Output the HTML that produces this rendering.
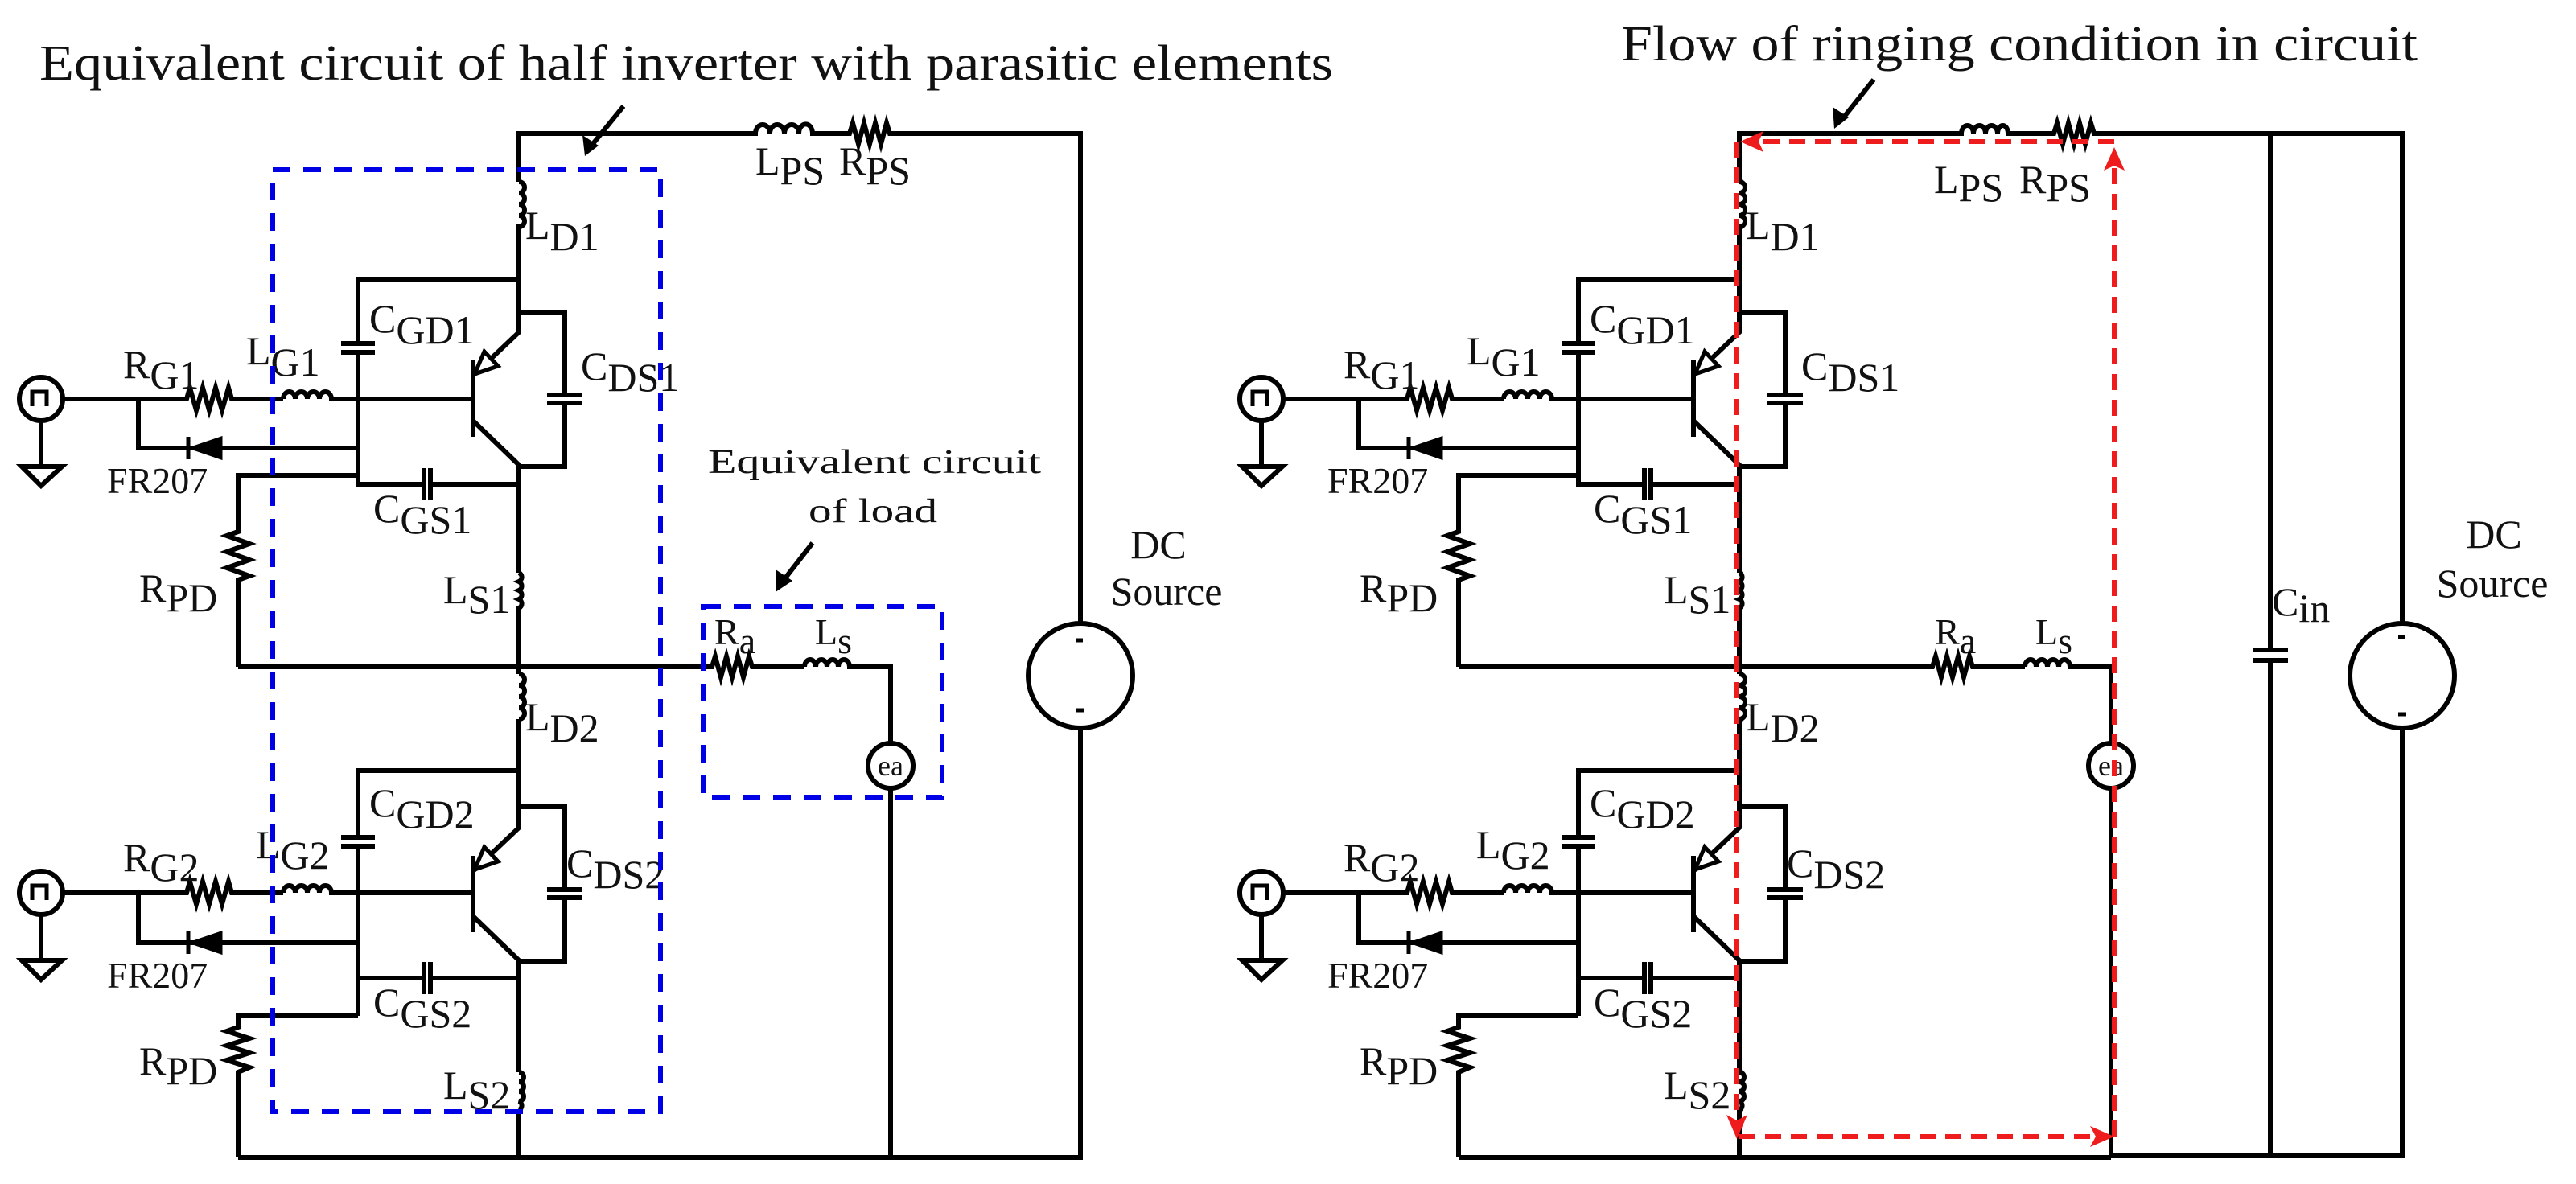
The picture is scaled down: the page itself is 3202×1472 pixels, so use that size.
<!DOCTYPE html>
<html><head><meta charset="utf-8"><style>
html,body{margin:0;padding:0;background:#fff;}
svg{display:block;}
text{font-family:"Liberation Serif",serif;fill:#111;}
</style></head><body>
<svg width="3202" height="1472" viewBox="0 0 3202 1472" xmlns="http://www.w3.org/2000/svg">
<defs>
<g id="half" fill="none" stroke="#000" stroke-width="6" stroke-linejoin="miter">
  <path d="M645 226 V166"/>
  <path d="M645 283 V413 L588 467"/>
  <path d="M588 448 V543"/>
  <path d="M588 523 L645 578 V712"/>
  <path d="M645 757 V838"/>
  <path d="M645 894 V1029 L588 1083"/>
  <path d="M588 1064 V1159"/>
  <path d="M588 1139 L645 1194 V1333"/>
  <path d="M645 1380 V1439"/>
  <path d="M645 226 a7 7 0 0 1 0 14 a7 7 0 0 1 0 14 a7 7 0 0 1 0 14 a7 7 0 0 1 0 14 V283"/>
  <path d="M645 712 a6 6 0 0 1 0 11 a6 6 0 0 1 0 11 a6 6 0 0 1 0 11 a6 6 0 0 1 0 11 V757"/>
  <path d="M645 838 a7 7 0 0 1 0 14 a7 7 0 0 1 0 14 a7 7 0 0 1 0 14 a7 7 0 0 1 0 14 V894"/>
  <path d="M645 1333 a6 6 0 0 1 0 12 a6 6 0 0 1 0 12 a6 6 0 0 1 0 12 a6 6 0 0 1 0 11 V1380"/>
  <path d="M590 465 L602 437 L619 455 Z" stroke-width="5" fill="#fff"/>
  <path d="M590 1081 L602 1053 L619 1071 Z" stroke-width="5" fill="#fff"/>
  <path d="M645 347 H445 V426 M445 440 V602 H527 M535 602 H645"/>
  <path d="M424 427 H466 M424 438 H466"/>
  <path d="M527 582 V622 M535 582 V622"/>
  <path d="M645 389 H702 V490 M702 502 V580 H645"/>
  <path d="M680 491 H724 M680 501 H724"/>
  <path d="M79 496 H232 l4 -14 l8 28 l8 -28 l8 28 l8 -28 l8 28 l8 -28 l4 14 H352"/>
  <path d="M352 496 a7.5 9 0 0 1 15 0 a7.5 9 0 0 1 15 0 a7.5 9 0 0 1 15 0 a7.5 9 0 0 1 15 0 H588"/>
  <path d="M172 496 V557 H445"/>
  <path d="M445 591 H296 V661 l-14 5 l28 10 l-28 10 l28 10 l-28 10 l28 10 l-14 5 V829"/>
  <path d="M645 958 H445 V1040 M445 1052 V1263 M445 1216 H527 M535 1216 H645"/>
  <path d="M424 1041 H466 M424 1052 H466"/>
  <path d="M527 1196 V1236 M535 1196 V1236"/>
  <path d="M645 1003 H702 V1106 M702 1117 V1195 H645"/>
  <path d="M680 1106 H724 M680 1116 H724"/>
  <path d="M79 1110 H232 l4 -14 l8 28 l8 -28 l8 28 l8 -28 l8 28 l8 -28 l4 14 H352"/>
  <path d="M352 1110 a7.5 9 0 0 1 15 0 a7.5 9 0 0 1 15 0 a7.5 9 0 0 1 15 0 a7.5 9 0 0 1 15 0 H588"/>
  <path d="M172 1110 V1172 H445"/>
  <path d="M445 1263 H296 V1277 l-14 5 l28 9 l-28 9 l28 9 l-28 9 l28 9 l-14 6 V1439"/>
  <path d="M275 544 L237 557 L275 570 Z" fill="#000" stroke-width="3"/>
  <path d="M234 543 V571" stroke-width="5"/>
  <path d="M275 1159 L237 1172 L275 1185 Z" fill="#000" stroke-width="3"/>
  <path d="M234 1158 V1186" stroke-width="5"/>
  <circle cx="51" cy="496" r="27"/>
  <path d="M40 505 V487 H58 V505" stroke-width="5"/>
  <path d="M51 523 V580 M27 580 H77 L51 604 Z"/>
  <circle cx="51" cy="1110" r="27"/>
  <path d="M40 1119 V1101 H58 V1119" stroke-width="5"/>
  <path d="M51 1137 V1194 M27 1194 H77 L51 1218 Z"/>
  <path d="M296 829 H885 l4 -13 l7 26 l7 -26 l7 26 l7 -26 l7 26 l7 -26 l4 13 H1000"/>
  <path d="M1000 829 a7 9 0 0 1 14 0 a7 9 0 0 1 14 0 a7 9 0 0 1 14 0 a7 9 0 0 1 14 0 H1107 V924"/>
  <circle cx="1107" cy="952" r="28"/>
  <path d="M1107 980 V1439 M296 1439 H1107"/>
</g>
<g id="halftext" font-size="50">
  <text x="653" y="297">L<tspan dy="14">D1</tspan></text>
  <text x="459" y="413">C<tspan dy="14">GD1</tspan></text>
  <text x="306" y="453">L<tspan dy="14">G1</tspan></text>
  <text x="153" y="470">R<tspan dy="13">G1</tspan></text>
  <text x="722" y="472">C<tspan dy="14">DS1</tspan></text>
  <text x="133" y="613" font-size="46">FR207</text>
  <text x="464" y="649">C<tspan dy="14">GS1</tspan></text>
  <text x="173" y="748">R<tspan dy="12">PD</tspan></text>
  <text x="551" y="750">L<tspan dy="12">S1</tspan></text>
  <text x="653" y="908">L<tspan dy="14">D2</tspan></text>
  <text x="459" y="1015">C<tspan dy="14">GD2</tspan></text>
  <text x="318" y="1067">L<tspan dy="13">G2</tspan></text>
  <text x="153" y="1083">R<tspan dy="12">G2</tspan></text>
  <text x="704" y="1090">C<tspan dy="14">DS2</tspan></text>
  <text x="133" y="1228" font-size="46">FR207</text>
  <text x="464" y="1263">C<tspan dy="14">GS2</tspan></text>
  <text x="173" y="1336">R<tspan dy="12">PD</tspan></text>
  <text x="551" y="1366">L<tspan dy="12">S2</tspan></text>
  <text x="888" y="801" font-size="46">R<tspan dy="11">a</tspan></text>
  <text x="1013" y="801" font-size="46">L<tspan dy="11">s</tspan></text>
  <text x="1107" y="964" font-size="36" text-anchor="middle">ea</text>
</g>
</defs>

<use href="#half"/>
<use href="#halftext"/>
<g fill="none" stroke="#000" stroke-width="6">
  <path d="M642 166 H939 a9 11 0 0 1 18 0 a9 11 0 0 1 18 0 a9 11 0 0 1 18 0 a8 11 0 0 1 17 0 H1056 l4 -13 l7 26 l7 -26 l7 26 l7 -26 l7 26 l7 -26 l4 13 H1343 V775"/>
  <circle cx="1343" cy="840" r="65"/>
  <path d="M1343 905 V1439 H1107"/>
  <path d="M1338 796 h8 M1338 883 h10" stroke-width="5"/>
  <path d="M775 132 L736 180"/>
</g>
<path d="M727 194 L724 168 L744 181 Z" fill="#000"/>
<g fill="none" stroke="#0000e6" stroke-width="6" stroke-dasharray="22 16">
  <rect x="339" y="211" width="482" height="1171"/>
  <rect x="874" y="754" width="297" height="237"/>
</g>
<text x="49" y="99" font-size="62" textLength="1608" lengthAdjust="spacingAndGlyphs">Equivalent circuit of half inverter with parasitic elements</text>
<text x="880" y="588" font-size="42" textLength="414" lengthAdjust="spacingAndGlyphs">Equivalent circuit</text>
<text x="1005" y="649" font-size="42" textLength="160" lengthAdjust="spacingAndGlyphs">of load</text>
<g fill="none" stroke="#000" stroke-width="6"><path d="M1010 675 L975 720"/></g>
<path d="M964 736 L964 708 L985 722 Z" fill="#000"/>
<g font-size="50">
  <text x="939" y="217">L<tspan dy="12">PS</tspan></text>
  <text x="1043" y="217">R<tspan dy="12">PS</tspan></text>
  <text x="1440" y="694" text-anchor="middle">DC</text>
  <text x="1450" y="752" text-anchor="middle">Source</text>
</g>

<g transform="translate(1517,0)">
  <use href="#half"/>
  <use href="#halftext"/>
</g>
<g fill="none" stroke="#000" stroke-width="6">
  <path d="M2159 166 H2438 a7.5 10 0 0 1 15 0 a7.5 10 0 0 1 15 0 a7.5 10 0 0 1 15 0 a6.5 10 0 0 1 13 0 H2553 l4 -13 l7 26 l7 -26 l7 26 l7 -26 l7 26 l7 -26 l4 13 H2986 V775"/>
  <path d="M2822 166 V807 M2822 822 V1437"/>
  <path d="M2800 808 H2844 M2800 821 H2844"/>
  <circle cx="2986" cy="840" r="65"/>
  <path d="M2986 905 V1437 H2624"/>
  <path d="M2981 792 h8 M2981 888 h10" stroke-width="5"/>
  <path d="M2329 99 L2290 148"/>
</g>
<path d="M2280 160 L2278 133 L2298 146 Z" fill="#000"/>
<g fill="none" stroke="#ee1c1c" stroke-width="6" stroke-dasharray="20 12">
  <path d="M2628 176 H2180"/>
  <path d="M2159 176 V1395"/>
  <path d="M2162 1413 H2605"/>
  <path d="M2628 1413 V205"/>
</g>
<g fill="#ee1c1c">
  <path d="M2163 176 L2192 163 L2186 176 L2192 189 Z"/>
  <path d="M2159 1416 L2146 1386 L2159 1393 L2172 1386 Z"/>
  <path d="M2628 1413 L2598 1400 L2605 1413 L2598 1426 Z"/>
  <path d="M2628 183 L2615 212 L2628 206 L2641 212 Z"/>
</g>
<text x="2015" y="75" font-size="62" textLength="990" lengthAdjust="spacingAndGlyphs">Flow of ringing condition in circuit</text>
<g font-size="50">
  <text x="2404" y="240">L<tspan dy="10">PS</tspan></text>
  <text x="2510" y="240">R<tspan dy="10">PS</tspan></text>
  <text x="2824" y="765">C<tspan dy="8">in</tspan></text>
  <text x="3100" y="681" text-anchor="middle">DC</text>
  <text x="3098" y="742" text-anchor="middle">Source</text>
</g>
</svg>
</body></html>
